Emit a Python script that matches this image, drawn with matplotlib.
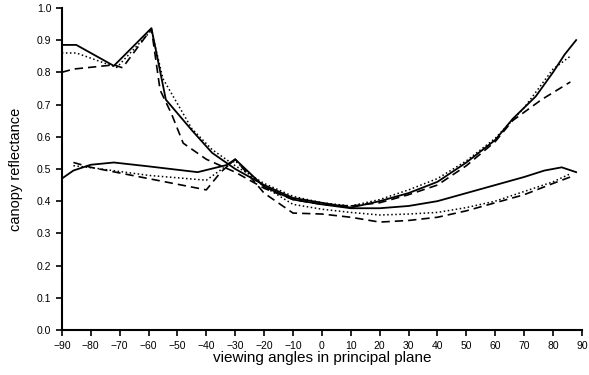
import matplotlib
matplotlib.use('Agg')
import matplotlib.pyplot as plt

plt.rcParams['font.family'] = ['Liberation Sans', 'DejaVu Sans']

# upper group
up_solid_x = [-90, -85, -72, -59, -54, -45, -38, -30, -20, -10, 0, 10, 20, 30, 40, 50, 60, 66, 74, 80, 84, 88]
up_solid_y = [0.885, 0.885, 0.82, 0.937, 0.715, 0.62, 0.55, 0.50, 0.45, 0.41, 0.395, 0.38, 0.40, 0.425, 0.46, 0.52, 0.59, 0.655, 0.725, 0.80, 0.855, 0.90]

up_dot_x = [-90, -85, -71, -59, -55, -45, -38, -30, -20, -10, 0, 10, 20, 30, 40, 50, 60, 70, 80, 86]
up_dot_y = [0.86, 0.86, 0.815, 0.93, 0.78, 0.625, 0.56, 0.51, 0.455, 0.415, 0.395, 0.385, 0.405, 0.435, 0.47, 0.525, 0.595, 0.69, 0.81, 0.85]

up_dash_x = [-90, -86, -72, -69, -59, -56, -52, -48, -40, -30, -20, -10, 0, 10, 20, 30, 40, 50, 60, 66, 76, 86]
up_dash_y = [0.80, 0.81, 0.823, 0.814, 0.935, 0.745, 0.67, 0.58, 0.53, 0.49, 0.44, 0.405, 0.39, 0.385, 0.395, 0.42, 0.45, 0.51, 0.585, 0.65, 0.715, 0.77]

# lower group
lo_solid_x = [-90, -86, -80, -72, -60, -43, -33, -30, -20, -10, 0, 10, 20, 30, 40, 50, 60, 70, 77, 83, 88]
lo_solid_y = [0.47, 0.495, 0.513, 0.52, 0.508, 0.49, 0.512, 0.53, 0.445, 0.405, 0.39, 0.378, 0.378, 0.385, 0.40, 0.425, 0.45, 0.475, 0.495, 0.505, 0.49]

lo_dot_x = [-86, -79, -60, -40, -33, -30, -20, -10, 0, 10, 20, 30, 40, 50, 60, 70, 80, 86]
lo_dot_y = [0.51, 0.503, 0.48, 0.465, 0.51, 0.525, 0.445, 0.39, 0.375, 0.365, 0.357, 0.36, 0.365, 0.38, 0.40, 0.43, 0.46, 0.485]

lo_dash_x = [-86, -80, -60, -40, -35, -30, -20, -10, 0, 10, 20, 30, 40, 50, 60, 70, 80, 86]
lo_dash_y = [0.52, 0.505, 0.47, 0.435, 0.49, 0.53, 0.425, 0.363, 0.36, 0.35, 0.335, 0.34, 0.35, 0.37, 0.395, 0.42, 0.455, 0.475]

fig = plt.figure(figsize=(5.89, 3.75), dpi=100)
ax = fig.add_axes([0.105, 0.12, 0.883, 0.859])

ax.plot(up_solid_x, up_solid_y, color='black', lw=1.3, ls='-')
ax.plot(up_dot_x, up_dot_y, color='black', lw=1.1, ls=':')
ax.plot(up_dash_x, up_dash_y, color='black', lw=1.2, ls=(0, (5, 3)))
ax.plot(lo_solid_x, lo_solid_y, color='black', lw=1.3, ls='-')
ax.plot(lo_dot_x, lo_dot_y, color='black', lw=1.1, ls=':')
ax.plot(lo_dash_x, lo_dash_y, color='black', lw=1.2, ls=(0, (5, 3)))

ax.set_xlim(-90, 90)
ax.set_ylim(0, 1.0)
ax.set_xticks(range(-90, 91, 10))
ax.set_yticks([i / 10 for i in range(11)])
ax.set_yticklabels(['%.1f' % (i / 10) for i in range(11)])
ax.tick_params(labelsize=7.5, length=4, width=1.2, direction='out')
ax.tick_params(axis='x', pad=4)

ax.spines['top'].set_visible(False)
ax.spines['right'].set_visible(False)
ax.spines['left'].set_linewidth(1.5)
ax.spines['bottom'].set_linewidth(1.5)

ax.set_xlabel('viewing angles in principal plane', fontsize=11, labelpad=0)
ax.set_ylabel('canopy reflectance', fontsize=10.5, labelpad=10)

fig.savefig('out.png', dpi=100)
